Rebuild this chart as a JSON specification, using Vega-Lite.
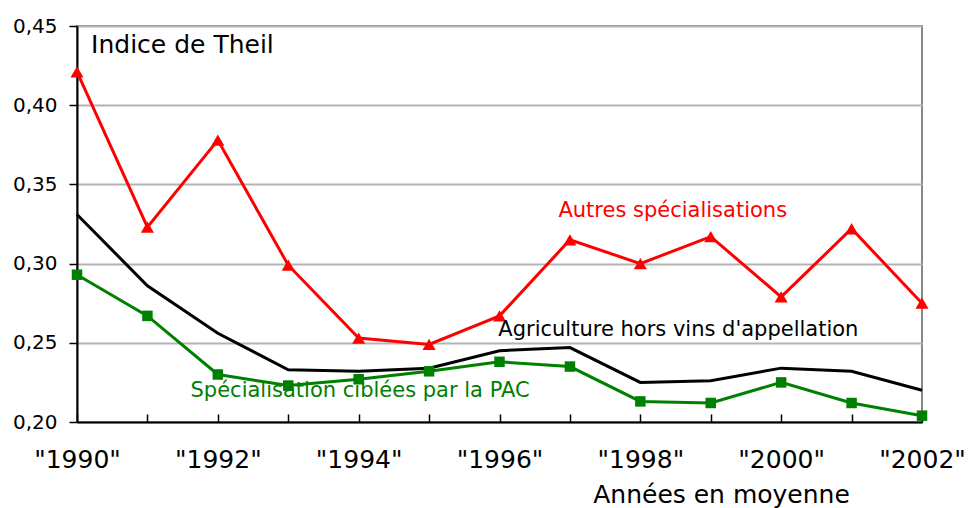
{
  "$schema": "https://vega.github.io/schema/vega-lite/v6.json",
  "autosize": {"type": "none"},
  "padding": {"left": 77, "top": 26, "right": 46, "bottom": 86},
  "width": 845,
  "height": 396,
  "background": "white",
  "config": {
    "font": "DejaVu Sans",
    "view": {"stroke": "#888888", "strokeWidth": 2}
  },
  "datasets": {
    "series": [
      {"annee": 1990, "serie": "Autres spécialisations", "valeur": 0.421},
      {"annee": 1991, "serie": "Autres spécialisations", "valeur": 0.323},
      {"annee": 1992, "serie": "Autres spécialisations", "valeur": 0.378},
      {"annee": 1993, "serie": "Autres spécialisations", "valeur": 0.299},
      {"annee": 1994, "serie": "Autres spécialisations", "valeur": 0.253},
      {"annee": 1995, "serie": "Autres spécialisations", "valeur": 0.249},
      {"annee": 1996, "serie": "Autres spécialisations", "valeur": 0.267},
      {"annee": 1997, "serie": "Autres spécialisations", "valeur": 0.315},
      {"annee": 1998, "serie": "Autres spécialisations", "valeur": 0.300},
      {"annee": 1999, "serie": "Autres spécialisations", "valeur": 0.317},
      {"annee": 2000, "serie": "Autres spécialisations", "valeur": 0.279},
      {"annee": 2001, "serie": "Autres spécialisations", "valeur": 0.322},
      {"annee": 2002, "serie": "Autres spécialisations", "valeur": 0.275},
      {"annee": 1990, "serie": "Agriculture hors vins d'appellation", "valeur": 0.331},
      {"annee": 1991, "serie": "Agriculture hors vins d'appellation", "valeur": 0.286},
      {"annee": 1992, "serie": "Agriculture hors vins d'appellation", "valeur": 0.256},
      {"annee": 1993, "serie": "Agriculture hors vins d'appellation", "valeur": 0.233},
      {"annee": 1994, "serie": "Agriculture hors vins d'appellation", "valeur": 0.232},
      {"annee": 1995, "serie": "Agriculture hors vins d'appellation", "valeur": 0.234},
      {"annee": 1996, "serie": "Agriculture hors vins d'appellation", "valeur": 0.245},
      {"annee": 1997, "serie": "Agriculture hors vins d'appellation", "valeur": 0.247},
      {"annee": 1998, "serie": "Agriculture hors vins d'appellation", "valeur": 0.225},
      {"annee": 1999, "serie": "Agriculture hors vins d'appellation", "valeur": 0.226},
      {"annee": 2000, "serie": "Agriculture hors vins d'appellation", "valeur": 0.234},
      {"annee": 2001, "serie": "Agriculture hors vins d'appellation", "valeur": 0.232},
      {"annee": 2002, "serie": "Agriculture hors vins d'appellation", "valeur": 0.220},
      {"annee": 1990, "serie": "Spécialisation ciblées par la PAC", "valeur": 0.293},
      {"annee": 1991, "serie": "Spécialisation ciblées par la PAC", "valeur": 0.267},
      {"annee": 1992, "serie": "Spécialisation ciblées par la PAC", "valeur": 0.230},
      {"annee": 1993, "serie": "Spécialisation ciblées par la PAC", "valeur": 0.223},
      {"annee": 1994, "serie": "Spécialisation ciblées par la PAC", "valeur": 0.227},
      {"annee": 1995, "serie": "Spécialisation ciblées par la PAC", "valeur": 0.232},
      {"annee": 1996, "serie": "Spécialisation ciblées par la PAC", "valeur": 0.238},
      {"annee": 1997, "serie": "Spécialisation ciblées par la PAC", "valeur": 0.235},
      {"annee": 1998, "serie": "Spécialisation ciblées par la PAC", "valeur": 0.213},
      {"annee": 1999, "serie": "Spécialisation ciblées par la PAC", "valeur": 0.212},
      {"annee": 2000, "serie": "Spécialisation ciblées par la PAC", "valeur": 0.225},
      {"annee": 2001, "serie": "Spécialisation ciblées par la PAC", "valeur": 0.212},
      {"annee": 2002, "serie": "Spécialisation ciblées par la PAC", "valeur": 0.204}
    ],
    "etiquettes": [
      {"texte": "Indice de Theil"},
      {"texte": "Autres spécialisations"},
      {"texte": "Agriculture hors vins d'appellation"},
      {"texte": "Spécialisation ciblées par la PAC"}
    ]
  },
  "layer": [
    {
      "data": {"name": "series"},
      "mark": {"type": "line", "strokeWidth": 3},
      "encoding": {
        "x": {
          "field": "annee",
          "type": "quantitative",
          "scale": {"domain": [1990, 2002], "nice": false, "zero": false},
          "axis": {
            "values": [1990, 1991, 1992, 1993, 1994, 1995, 1996, 1997, 1998, 1999, 2000, 2001, 2002],
            "labelExpr": "datum.value % 2 == 0 ? '\"' + datum.value + '\"' : ''",
            "grid": false,
            "domainColor": "#000000",
            "domainWidth": 2,
            "tickColor": "#000000",
            "tickWidth": 1.5,
            "tickSize": -8,
            "labelFontSize": 25,
            "labelColor": "#000000",
            "labelPadding": 33,
            "labelFlush": false,
            "labelOverlap": false,
            "title": "Années en moyenne",
            "titleFontSize": 25,
            "titleFontWeight": "normal",
            "titleColor": "#000000",
            "titleX": 644,
            "titleY": 80,
            "titleAlign": "center",
            "titleBaseline": "alphabetic"
          }
        },
        "y": {
          "field": "valeur",
          "type": "quantitative",
          "scale": {"domain": [0.2, 0.45], "nice": false, "zero": false},
          "axis": {
            "values": [0.2, 0.25, 0.3, 0.35, 0.4, 0.45],
            "labelExpr": "replace(format(datum.value, '.2f'), '.', ',')",
            "grid": true,
            "gridColor": "#b3b3b3",
            "gridWidth": 2,
            "domainColor": "#000000",
            "domainWidth": 2,
            "tickColor": "#000000",
            "tickWidth": 1.5,
            "tickSize": 8,
            "labelFontSize": 20,
            "labelColor": "#000000",
            "labelPadding": 12,
            "title": null
          }
        },
        "color": {
          "field": "serie",
          "type": "nominal",
          "scale": {
            "domain": ["Autres spécialisations", "Agriculture hors vins d'appellation", "Spécialisation ciblées par la PAC"],
            "range": ["#ff0000", "#000000", "#008000"]
          },
          "legend": null
        }
      }
    },
    {
      "data": {"name": "series"},
      "transform": [{"filter": "datum.serie != \"Agriculture hors vins d'appellation\""}],
      "mark": {"type": "point", "filled": true, "opacity": 1},
      "encoding": {
        "x": {"field": "annee", "type": "quantitative"},
        "y": {"field": "valeur", "type": "quantitative"},
        "color": {"field": "serie", "type": "nominal", "legend": null},
        "shape": {
          "field": "serie",
          "type": "nominal",
          "scale": {
            "domain": ["Autres spécialisations", "Spécialisation ciblées par la PAC"],
            "range": ["triangle-up", "square"]
          },
          "legend": null
        },
        "size": {
          "field": "serie",
          "type": "nominal",
          "scale": {
            "domain": ["Autres spécialisations", "Spécialisation ciblées par la PAC"],
            "range": [170, 110]
          },
          "legend": null
        }
      }
    },
    {
      "data": {"name": "etiquettes"},
      "transform": [{"filter": "datum.texte == 'Indice de Theil'"}],
      "mark": {"type": "text", "fontSize": 25, "color": "#000000", "align": "left", "baseline": "alphabetic"},
      "encoding": {"x": {"datum": 1990.2}, "y": {"datum": 0.4331}, "text": {"field": "texte"}}
    },
    {
      "data": {"name": "etiquettes"},
      "transform": [{"filter": "datum.texte == 'Autres spécialisations'"}],
      "mark": {"type": "text", "fontSize": 21, "color": "#ff0000", "align": "center", "baseline": "alphabetic"},
      "encoding": {"x": {"datum": 1998.46}, "y": {"datum": 0.3295}, "text": {"field": "texte"}}
    },
    {
      "data": {"name": "etiquettes"},
      "transform": [{"filter": "datum.texte == \"Agriculture hors vins d'appellation\""}],
      "mark": {"type": "text", "fontSize": 21, "color": "#000000", "align": "center", "baseline": "alphabetic"},
      "encoding": {"x": {"datum": 1998.54}, "y": {"datum": 0.2542}, "text": {"field": "texte"}}
    },
    {
      "data": {"name": "etiquettes"},
      "transform": [{"filter": "datum.texte == 'Spécialisation ciblées par la PAC'"}],
      "mark": {"type": "text", "fontSize": 21, "color": "#008000", "align": "center", "baseline": "alphabetic"},
      "encoding": {"x": {"datum": 1994.02}, "y": {"datum": 0.2155}, "text": {"field": "texte"}}
    }
  ]
}
